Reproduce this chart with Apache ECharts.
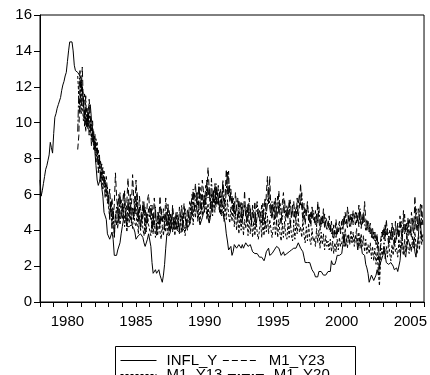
<!DOCTYPE html>
<html><head><meta charset="utf-8">
<script src="https://cdn.jsdelivr.net/npm/echarts@6/dist/echarts.min.js"></script>
<style>html,body{margin:0;padding:0;background:#fff}#c{width:430px;height:375px}</style>
</head><body><div id="c"></div>
<script>
// Monthly observations
const inflStart = 1978;          // Jan 1978
const m1Start = 1980 + 9 / 12;   // Oct 1980

const inflY = [
 6.8,5.9,6.2,6.6,7.0,7.4,7.6,7.9,8.2,8.9,8.6,8.3,
 9.4,10.3,10.5,10.8,11.0,11.1,11.4,11.8,12.1,12.3,12.6,12.8,
 13.4,14.0,14.5,14.6,14.5,14.0,13.2,12.9,12.8,12.8,12.7,12.6,
 12.4,11.9,11.0,10.4,10.0,9.8,10.8,10.9,11.0,10.2,9.6,8.9,
 8.4,7.6,6.8,6.5,6.7,7.1,6.4,5.9,5.0,5.1,4.6,3.8,
 3.7,3.5,3.6,3.9,3.5,2.6,2.5,2.6,2.9,2.9,3.3,3.8,
 4.2,4.6,4.8,4.6,4.2,4.2,4.2,4.3,4.3,4.3,4.1,3.9,
 3.5,3.5,3.7,3.7,3.8,3.8,3.6,3.3,3.1,3.2,3.5,3.8,
 3.9,3.1,2.2,1.6,1.5,1.8,1.6,1.6,1.8,1.5,1.3,1.1,
 1.5,2.1,3.0,3.8,3.9,3.7,3.9,4.3,4.4,4.5,4.5,4.4,
 4.0,3.9,3.9,3.9,3.9,4.0,4.1,4.0,4.2,4.2,4.2,4.4,
 4.7,4.8,5.0,5.1,5.4,5.2,5.0,4.7,4.3,4.5,4.7,4.6,
 5.2,5.3,5.2,4.7,4.4,4.7,4.8,5.6,6.2,6.3,6.3,6.1,
 5.7,5.3,4.9,4.9,5.0,4.7,4.4,3.8,3.4,2.9,3.0,3.1,
 2.6,2.8,3.2,3.2,3.0,3.1,3.2,3.1,3.0,3.2,3.0,2.9,
 3.3,3.2,3.1,3.2,3.2,3.0,2.8,2.8,2.7,2.8,2.7,2.7,
 2.5,2.5,2.5,2.4,2.3,2.5,2.8,2.9,3.0,2.6,2.7,2.7,
 2.8,2.9,2.9,3.1,3.2,3.0,2.8,2.6,2.5,2.8,2.6,2.5,
 2.7,2.7,2.8,2.9,2.9,2.8,3.0,2.9,3.0,3.0,3.3,3.3,
 3.0,3.0,2.8,2.5,2.2,2.3,2.2,2.2,2.2,2.1,1.8,1.7,
 1.6,1.4,1.4,1.4,1.7,1.7,1.7,1.6,1.5,1.5,1.5,1.6,
 1.7,1.6,1.7,2.3,2.1,2.0,2.1,2.3,2.6,2.6,2.6,2.7,
 2.7,3.2,3.8,3.1,3.2,3.7,3.7,3.4,3.5,3.4,3.4,3.4,
 3.7,3.5,2.9,3.3,3.6,3.2,2.7,2.7,2.6,2.1,1.9,1.6,
 1.1,1.1,1.5,1.6,1.2,1.1,1.5,1.8,1.5,2.0,2.2,2.4,
 2.6,3.0,3.0,2.2,2.1,2.1,2.1,2.2,2.3,2.0,1.8,1.9,
 1.9,1.7,1.7,2.3,3.1,3.3,3.0,2.7,2.5,3.2,3.5,3.3,
 3.0,3.0,3.1,3.5,2.8,2.5,3.2,3.6,4.7,4.3,3.5,3.4
];

const m1Y23 = [
 8.5,9.3,12.4,
 11.8,13.1,10.9,11.6,10.2,10.8,9.6,11.3,10.4,9.2,10.1,8.8,
 9.4,8.3,8.9,7.6,8.2,7.1,7.7,6.8,7.3,6.4,7.0,6.2,
 5.6,6.3,5.2,5.8,4.7,5.4,7.2,5.9,5.1,6.0,5.3,5.7,
 5.0,6.1,5.4,4.8,5.6,6.9,5.2,4.6,5.3,7.1,5.8,4.9,
 6.8,5.5,4.7,5.9,5.2,4.5,5.6,4.8,5.3,4.4,5.7,6.0,
 5.1,4.6,5.4,4.3,5.8,4.9,4.2,5.0,4.5,5.9,4.7,4.4,
 5.2,4.5,5.8,4.8,4.3,5.1,4.6,4.1,5.4,4.7,4.2,5.0,
 4.6,4.2,5.3,4.5,4.9,4.0,5.5,4.7,4.3,5.2,4.8,5.6,
 5.1,6.0,5.4,5.8,6.6,5.5,6.1,5.2,6.4,5.6,6.8,6.2,
 5.4,6.5,5.9,7.5,6.3,5.6,6.0,5.1,5.8,6.6,5.3,6.1,
 5.5,6.2,5.0,5.7,6.4,5.2,5.9,7.4,6.0,7.3,5.6,6.3,
 5.2,5.8,4.9,6.1,5.4,4.6,5.7,5.0,4.4,5.5,4.8,6.2,
 4.7,5.3,4.5,5.8,4.9,4.3,5.1,4.6,5.6,4.2,4.8,5.2,
 4.5,5.0,4.4,5.5,4.8,4.2,6.0,7.0,5.4,7.0,5.1,4.6,
 5.3,4.7,5.8,4.4,5.2,6.2,4.8,4.3,5.5,6.1,4.9,4.5,
 5.1,4.6,5.7,4.2,4.9,5.4,4.4,5.0,4.5,5.8,4.8,5.3,
 6.6,5.2,4.6,5.5,4.3,5.0,5.6,4.5,4.9,4.2,5.3,4.7,
 4.4,5.1,4.2,5.6,4.6,4.0,4.8,4.3,5.2,4.1,4.7,4.5,
 4.2,4.8,3.9,4.5,3.6,4.3,3.8,4.6,3.7,4.2,4.5,4.0,
 4.1,4.7,4.3,5.0,4.4,5.3,4.6,4.2,4.9,4.5,5.1,4.6,
 4.3,5.0,4.5,5.4,4.7,4.1,4.9,4.4,5.6,4.6,4.0,4.5,
 3.9,4.4,3.6,4.1,3.5,3.9,3.2,3.8,2.6,1.5,3.4,3.9,
 3.6,4.2,3.4,4.6,3.8,3.2,4.0,3.5,4.4,3.7,3.1,4.5,
 3.5,4.1,3.3,4.8,3.9,3.4,5.1,3.8,4.3,3.6,4.7,4.0,
 3.7,5.0,4.2,3.8,5.9,4.4,3.9,5.2,4.6,4.1,5.4,4.3
];

const m1Y13 = [
 12.6,11.4,10.6,
 12.2,11.0,10.1,10.7,9.5,10.3,9.9,10.8,9.4,9.9,8.9,9.5,
 8.6,9.1,8.0,8.5,7.4,7.9,6.9,7.5,6.5,6.8,5.9,6.4,
 5.3,4.7,5.6,4.2,5.1,3.6,4.8,5.3,4.1,5.2,4.3,5.0,
 4.6,5.3,4.2,5.1,3.9,5.0,4.4,5.4,4.6,4.1,5.2,4.4,
 4.2,5.0,3.8,4.8,4.0,4.9,4.1,3.7,4.7,3.9,4.9,4.3,
 4.4,3.7,4.6,3.8,4.5,3.6,4.4,3.7,4.7,3.9,3.5,4.3,
 3.7,4.5,3.9,4.6,3.8,4.8,4.0,4.7,3.9,4.6,3.7,4.4,
 4.0,4.7,3.8,4.6,3.9,4.8,4.2,3.7,4.6,4.0,4.9,4.3,
 4.6,5.2,4.3,5.4,4.7,5.6,4.5,5.3,4.4,5.5,4.8,5.7,
 5.0,5.8,4.6,5.5,4.5,5.3,5.6,4.8,5.9,5.0,6.2,5.4,
 5.8,5.0,5.9,4.8,5.6,4.5,5.4,4.6,5.7,4.9,4.4,5.3,
 4.5,5.4,4.2,5.1,4.0,4.9,3.8,4.8,4.0,4.9,3.7,4.6,
 4.1,4.8,3.7,4.6,3.8,4.7,3.6,4.5,3.7,4.6,3.9,3.5,
 4.0,4.6,3.6,4.5,3.7,4.7,3.9,4.8,3.8,4.6,4.1,3.6,
 4.1,4.8,3.7,4.5,3.6,4.6,3.8,3.4,4.4,3.6,4.5,3.7,
 3.5,4.4,3.6,4.6,3.7,3.4,4.3,3.5,4.5,3.8,4.7,3.9,
 4.2,3.6,4.6,3.7,3.3,4.2,3.4,4.4,3.5,3.2,4.1,3.4,
 3.6,3.1,4.1,3.3,4.0,3.0,3.9,3.2,3.8,2.9,3.7,3.1,
 3.4,2.9,3.5,2.8,3.4,2.7,3.3,2.8,3.5,2.9,3.6,3.1,
 3.3,3.9,3.1,4.1,3.4,3.0,3.8,3.2,4.0,3.3,3.9,3.1,
 3.5,4.1,3.2,3.9,3.0,3.8,3.1,3.7,2.8,3.5,2.7,3.2,
 2.7,3.3,2.4,3.1,2.3,3.0,2.1,2.8,1.7,0.9,2.3,3.0,
 2.6,3.3,2.4,3.1,2.5,3.4,2.7,2.3,3.2,2.6,3.5,2.8,
 3.0,2.5,3.4,2.7,3.6,2.9,2.6,3.5,2.8,3.7,3.0,2.7,
 3.2,2.8,3.7,3.0,3.9,3.1,2.7,3.6,2.9,4.0,3.2,3.8
];

const m1Y20 = [
 9.5,11.8,12.9,
 10.5,12.0,11.3,9.8,11.5,9.7,10.6,9.3,10.2,8.7,9.6,8.5,
 9.0,7.8,8.6,7.2,8.0,6.7,7.4,6.3,7.0,5.8,6.6,5.5,
 6.0,4.6,5.5,4.1,5.2,3.6,4.9,4.3,5.6,4.4,6.1,4.8,
 5.5,4.6,6.2,5.0,4.3,5.7,4.8,6.0,4.4,5.3,4.6,5.9,
 4.9,6.1,4.5,5.3,4.0,5.0,4.6,5.6,3.8,4.9,4.4,5.2,
 4.7,5.4,3.9,4.8,4.3,5.3,3.7,4.6,5.0,4.1,5.2,4.5,
 4.8,4.0,5.0,4.4,5.5,3.9,4.9,4.5,5.1,4.0,4.8,4.3,
 5.0,4.4,3.9,4.8,5.4,4.3,4.7,5.2,4.1,4.6,5.0,4.4,
 5.5,4.9,6.3,5.2,5.8,6.1,5.4,6.6,5.7,5.0,6.0,5.3,
 6.0,5.4,6.8,5.8,6.4,5.2,6.9,5.7,6.2,5.5,6.6,5.9,
 6.5,5.8,6.3,5.5,6.8,6.0,5.4,6.2,7.3,5.9,6.5,5.6,
 5.9,5.1,5.6,4.8,5.3,5.8,4.7,5.2,5.6,4.5,5.0,5.4,
 5.0,4.5,5.5,4.8,5.2,4.4,5.4,4.9,4.3,5.0,5.6,4.7,
 5.1,4.8,5.4,4.3,5.2,5.8,4.9,5.5,6.4,5.3,4.8,5.6,
 5.0,5.6,4.6,5.3,5.9,4.9,5.5,5.0,4.6,5.2,5.7,4.8,
 5.4,4.9,5.2,5.7,4.7,5.1,5.6,4.8,5.3,4.9,5.5,6.0,
 5.4,6.1,5.0,4.6,5.2,4.8,5.4,4.9,4.4,5.0,4.6,5.1,
 4.7,4.3,4.9,4.4,5.3,4.5,4.2,4.8,4.4,4.9,4.3,4.0,
 4.4,4.0,4.3,3.8,4.1,3.5,4.0,3.6,4.2,3.9,4.3,3.8,
 4.5,4.0,4.8,4.3,4.6,4.1,5.0,4.5,4.2,4.9,4.3,4.7,
 5.0,4.4,4.8,4.2,5.2,4.6,4.3,5.0,4.4,4.0,4.6,4.1,
 4.3,3.8,4.1,3.5,3.9,3.4,3.7,3.0,3.4,2.2,3.1,3.6,
 4.0,3.5,4.3,3.7,4.1,3.6,3.3,3.9,3.4,4.2,3.8,3.3,
 3.8,4.4,3.7,4.0,4.5,3.6,4.2,4.9,3.9,4.4,3.7,4.6,
 4.2,3.6,4.7,4.4,4.0,5.2,4.5,4.1,4.9,5.5,4.3,4.7
];

const seriesNames = ['INFL_Y', 'M1_Y23', 'M1_Y13', 'M1_Y20'];
const xMin = 1978, xMax = 2006, xStep = 1;
const xLabelYears = [1980, 1985, 1990, 1995, 2000, 2005];
const yMin = 0, yMax = 16, yStep = 2;

function monthly(start, arr) { return arr.map((v, i) => [start + i / 12, v]); }

const FONT = "'Liberation Sans', Arial, sans-serif";
const chart = echarts.init(document.getElementById('c'), null, { renderer: 'canvas' });

function lineSeries(name, data, dash) {
  return {
    name, type: 'line', data, symbol: 'none', showSymbol: false,
    lineStyle: { color: '#000', width: 1, type: dash },
    itemStyle: { color: '#000' },
    emphasis: { disabled: true }, animation: false, z: 2
  };
}

function legendRow(names, top) {
  return {
    data: names, orient: 'horizontal', left: 120, top,
    itemWidth: 36, itemHeight: 14, itemGap: 5, padding: 0,
    itemStyle: { opacity: 0 },
    lineStyle: { color: '#000', width: 1 },
    textStyle: { color: '#000', fontFamily: FONT, fontSize: 15, width: 66, padding: [0, 0, 0, 5], overflow: 'none' },
    selectedMode: false
  };
}

chart.setOption({
  animation: false,
  backgroundColor: '#fff',
  grid: { left: 40, right: 5, top: 15, bottom: 73, show: true, borderColor: '#000', borderWidth: 1, backgroundColor: 'transparent' },
  xAxis: {
    type: 'value', min: xMin, max: xMax, interval: xStep,
    axisLine: { show: true, lineStyle: { color: '#000', width: 1 } },
    axisTick: { show: true, length: 5, inside: false, lineStyle: { color: '#000' } },
    splitLine: { show: false },
    axisLabel: {
      color: '#000', fontFamily: FONT, fontSize: 15, margin: 12,
      formatter: v => xLabelYears.includes(Math.round(v)) ? String(Math.round(v)) : ''
    }
  },
  yAxis: {
    type: 'value', min: yMin, max: yMax, interval: yStep,
    axisLine: { show: true, lineStyle: { color: '#000', width: 1 } },
    axisTick: { show: true, length: 6, inside: false, lineStyle: { color: '#000' } },
    splitLine: { show: false },
    axisLabel: { color: '#000', fontFamily: FONT, fontSize: 15, margin: 8 }
  },
  legend: [
    legendRow([seriesNames[0], seriesNames[1]], 353),
    legendRow([seriesNames[2], seriesNames[3]], 367)
  ],
  graphic: [{
    type: 'rect', left: 113, top: 344, silent: true,
    shape: { width: 240, height: 45 },
    style: { fill: 'none', stroke: '#000', lineWidth: 1 }
  }],
  series: [
    lineSeries(seriesNames[0], monthly(inflStart, inflY), 'solid'),
    lineSeries(seriesNames[1], monthly(m1Start, m1Y23), [6, 3]),
    lineSeries(seriesNames[2], monthly(m1Start, m1Y13), [3, 2]),
    lineSeries(seriesNames[3], monthly(m1Start, m1Y20), [8, 2, 2, 2])
  ]
});
</script>
</body></html>
